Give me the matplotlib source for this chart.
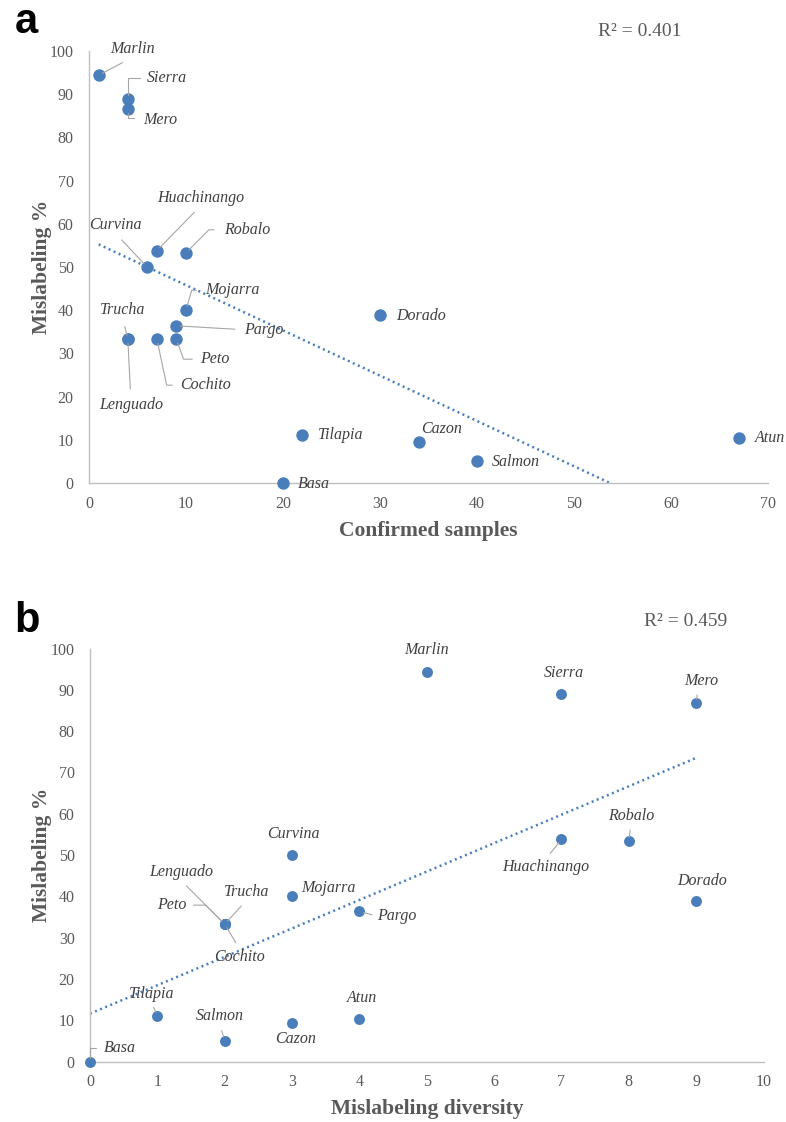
import matplotlib
matplotlib.use('Agg')
import matplotlib.pyplot as plt
import numpy as np

# data
names = ['Marlin', 'Sierra', 'Mero', 'Huachinango', 'Robalo', 'Curvina', 'Mojarra',
         'Pargo', 'Trucha', 'Lenguado', 'Cochito', 'Peto', 'Dorado', 'Tilapia',
         'Basa', 'Cazon', 'Salmon', 'Atun']
confirmed = [1, 4, 4, 7, 10, 6, 10, 9, 4, 4, 7, 9, 30, 22, 20, 34, 40, 67]
diversity = [5, 7, 9, 7, 8, 3, 3, 4, 2, 2, 2, 2, 9, 1, 0, 3, 2, 4]
mislabel = [94.4, 88.9, 86.7, 53.8, 53.3, 50.0, 40.0, 36.4, 33.3, 33.3, 33.3, 33.3,
            38.8, 11.1, 0.0, 9.4, 5.1, 10.4]
r2_a = '0.401'
r2_b = '0.459'

BLUE = '#4A7EBB'
GRID = '#BFBFBF'
TXT = '#595959'
LAB = '#404040'
LEAD = '#A6A6A6'
SERIF = 'Liberation Serif'

# label placement: name -> (dx px, dy px, ha, leader)
# leader = (relpos, connectionstyle, shrinkA) or None
ARC = 'arc3'
labels_a = {
    'Marlin': (34, 26, 'center', ((0.5, 0), ARC, 4)),
    'Sierra': (39, 21, 'center', ((0, 0.5), 'angle,angleA=0,angleB=90,rad=0', 3)),
    'Mero': (32, -11, 'center', ((0, 0.6), 'angle,angleA=0,angleB=90,rad=0', 4)),
    'Huachinango': (44, 53, 'center', ((0.5, 0), ARC, 4)),
    'Robalo': (61, 23, 'center', ((0, 0.5), 'angle,angleA=0,angleB=45,rad=0', 5)),
    'Curvina': (-32, 42, 'center', ((0.5, 0), ARC, 4)),
    'Mojarra': (46, 20, 'center', ((0, 0.5), 'angle,angleA=0,angleB=74,rad=0', 4)),
    'Pargo': (88, -4, 'center', ((0, 0.5), ARC, 5)),
    'Peto': (39, -20, 'center', ((0, 0.5), 'angle,angleA=0,angleB=-70,rad=0', 4)),
    'Cochito': (49, -46, 'center', ((0, 0.5), 'angle,angleA=0,angleB=-78,rad=0', 4)),
    'Trucha': (-5, 29, 'center', ((0.5, 0), ARC, 4)),
    'Lenguado': (3, -66, 'center', ((0.5, 1), ARC, 4)),
    'Tilapia': (16, 0, 'left', None),
    'Basa': (15, -1, 'left', None),
    'Dorado': (16, -1, 'left', None),
    'Cazon': (23, 13, 'center', None),
    'Salmon': (15, -1, 'left', None),
    'Atun': (16, 0, 'left', None),
}
labels_b = {
    'Marlin': (0, 22, 'center', None),
    'Sierra': (2, 21, 'center', None),
    'Mero': (5, 22, 'center', ((0.4, 0), ARC, 2)),
    'Robalo': (2, 25, 'center', ((0.5, 0), ARC, 2)),
    'Huachinango': (-16, -28, 'center', ((0.5, 1), ARC, 3)),
    'Dorado': (6, 20, 'center', None),
    'Curvina': (1, 21, 'center', None),
    'Mojarra': (9, 8, 'left', None),
    'Pargo': (18, -5, 'left', ((0, 0.5), ARC, 2)),
    'Lenguado': (-44, 52, 'center', ((0.5, 0), ARC, 3)),
    'Trucha': (22, 32, 'center', ((0.5, 0), ARC, 3)),
    'Peto': (-53, 19, 'center', ((1, 0.5), 'angle,angleA=0,angleB=-45,rad=0', 3)),
    'Cochito': (15, -33, 'center', ((0.5, 1), ARC, 3)),
    'Tilapia': (-6, 22, 'center', ((0.5, 0), ARC, 2)),
    'Salmon': (-5, 25, 'center', ((0.5, 0), ARC, 3)),
    'Cazon': (3, -16, 'center', None),
    'Atun': (3, 21, 'center', None),
    'Basa': (14, 14, 'left', ((0, 0.5), 'angle,angleA=0,angleB=90,rad=0', 4)),
}


def style_axes(ax, xmax, ymax):
    ax.set_xlim(0, xmax)
    ax.set_ylim(0, ymax)
    for s in ['top', 'right']:
        ax.spines[s].set_visible(False)
    for s in ['left', 'bottom']:
        ax.spines[s].set_color(GRID)
        ax.spines[s].set_linewidth(1.0)
    ax.tick_params(length=0, labelsize=11.5, labelcolor=TXT)
    ax.tick_params(axis='x', pad=9)
    ax.tick_params(axis='y', pad=11)
    for t in ax.get_xticklabels() + ax.get_yticklabels():
        t.set_family(SERIF)


def draw_panel(ax, xs, ys, labels, msize, xmax, xlabel, xticks):
    xs = np.array(xs, dtype=float)
    ys = np.array(ys, dtype=float)
    k, b = np.polyfit(xs, ys, 1)
    xl = np.linspace(xs.min(), xs.max(), 200)
    ax.plot(xl, k * xl + b, color=BLUE, lw=1.8, linestyle=(0, (0.8, 1.4)),
            zorder=2)
    ax.scatter(xs, ys, s=msize, color=BLUE, zorder=3, clip_on=False,
               linewidths=0)
    for name, x, y in zip(names, xs, ys):
        dx, dy, ha, lead = labels[name]
        arrow = None
        if lead is not None:
            rp, cs, sa = lead
            arrow = dict(arrowstyle='-', color=LEAD, lw=0.8, shrinkA=sa,
                         shrinkB=3, relpos=rp, connectionstyle=cs)
        ax.annotate(name, xy=(x, y), xytext=(dx, dy), textcoords='offset pixels',
                    ha=ha, va='center', fontsize=11.5, style='italic',
                    family=SERIF, color=LAB, arrowprops=arrow,
                    annotation_clip=False, zorder=4)
    ax.set_xticks(xticks)
    ax.set_yticks(range(0, 101, 10))
    style_axes(ax, xmax, 100)
    ax.set_xlabel(xlabel, fontsize=15.5, fontweight='bold', family=SERIF,
                  color=TXT)
    ax.set_ylabel('Mislabeling %', fontsize=15.5, fontweight='bold',
                  family=SERIF, color=TXT)


fig = plt.figure(figsize=(7.86, 11.22), dpi=100)

ax1 = fig.add_axes([0.1132, 0.5695, 0.8639, 0.385])
draw_panel(ax1, confirmed, mislabel, labels_a, 80, 70, 'Confirmed samples',
           range(0, 71, 10))
ax1.xaxis.set_label_coords(0.5, -0.088)
ax1.yaxis.set_label_coords(-0.054, 0.5)

ax2 = fig.add_axes([0.1145, 0.0537, 0.8569, 0.3683])
draw_panel(ax2, diversity, mislabel, labels_b, 62, 10, 'Mislabeling diversity',
           range(0, 11))
ax2.xaxis.set_label_coords(0.5, -0.09)
ax2.yaxis.set_label_coords(-0.056, 0.5)

fig.text(640 / 786, 1 - 32 / 1122, 'R\u00b2 = ' + r2_a, ha='center', va='center',
         fontsize=14, family=SERIF, color=TXT)
fig.text(686 / 786, 1 - 622 / 1122, 'R\u00b2 = ' + r2_b, ha='center', va='center',
         fontsize=14, family=SERIF, color=TXT)

fig.text(26 / 786, 1 - 33 / 1122, 'a', ha='center', va='baseline', fontsize=30,
         fontweight='bold', family='Liberation Sans', color='black')
fig.text(27 / 786, 1 - 632 / 1122, 'b', ha='center', va='baseline', fontsize=30,
         fontweight='bold', family='Liberation Sans', color='black')

fig.savefig('out.png', dpi=100)
